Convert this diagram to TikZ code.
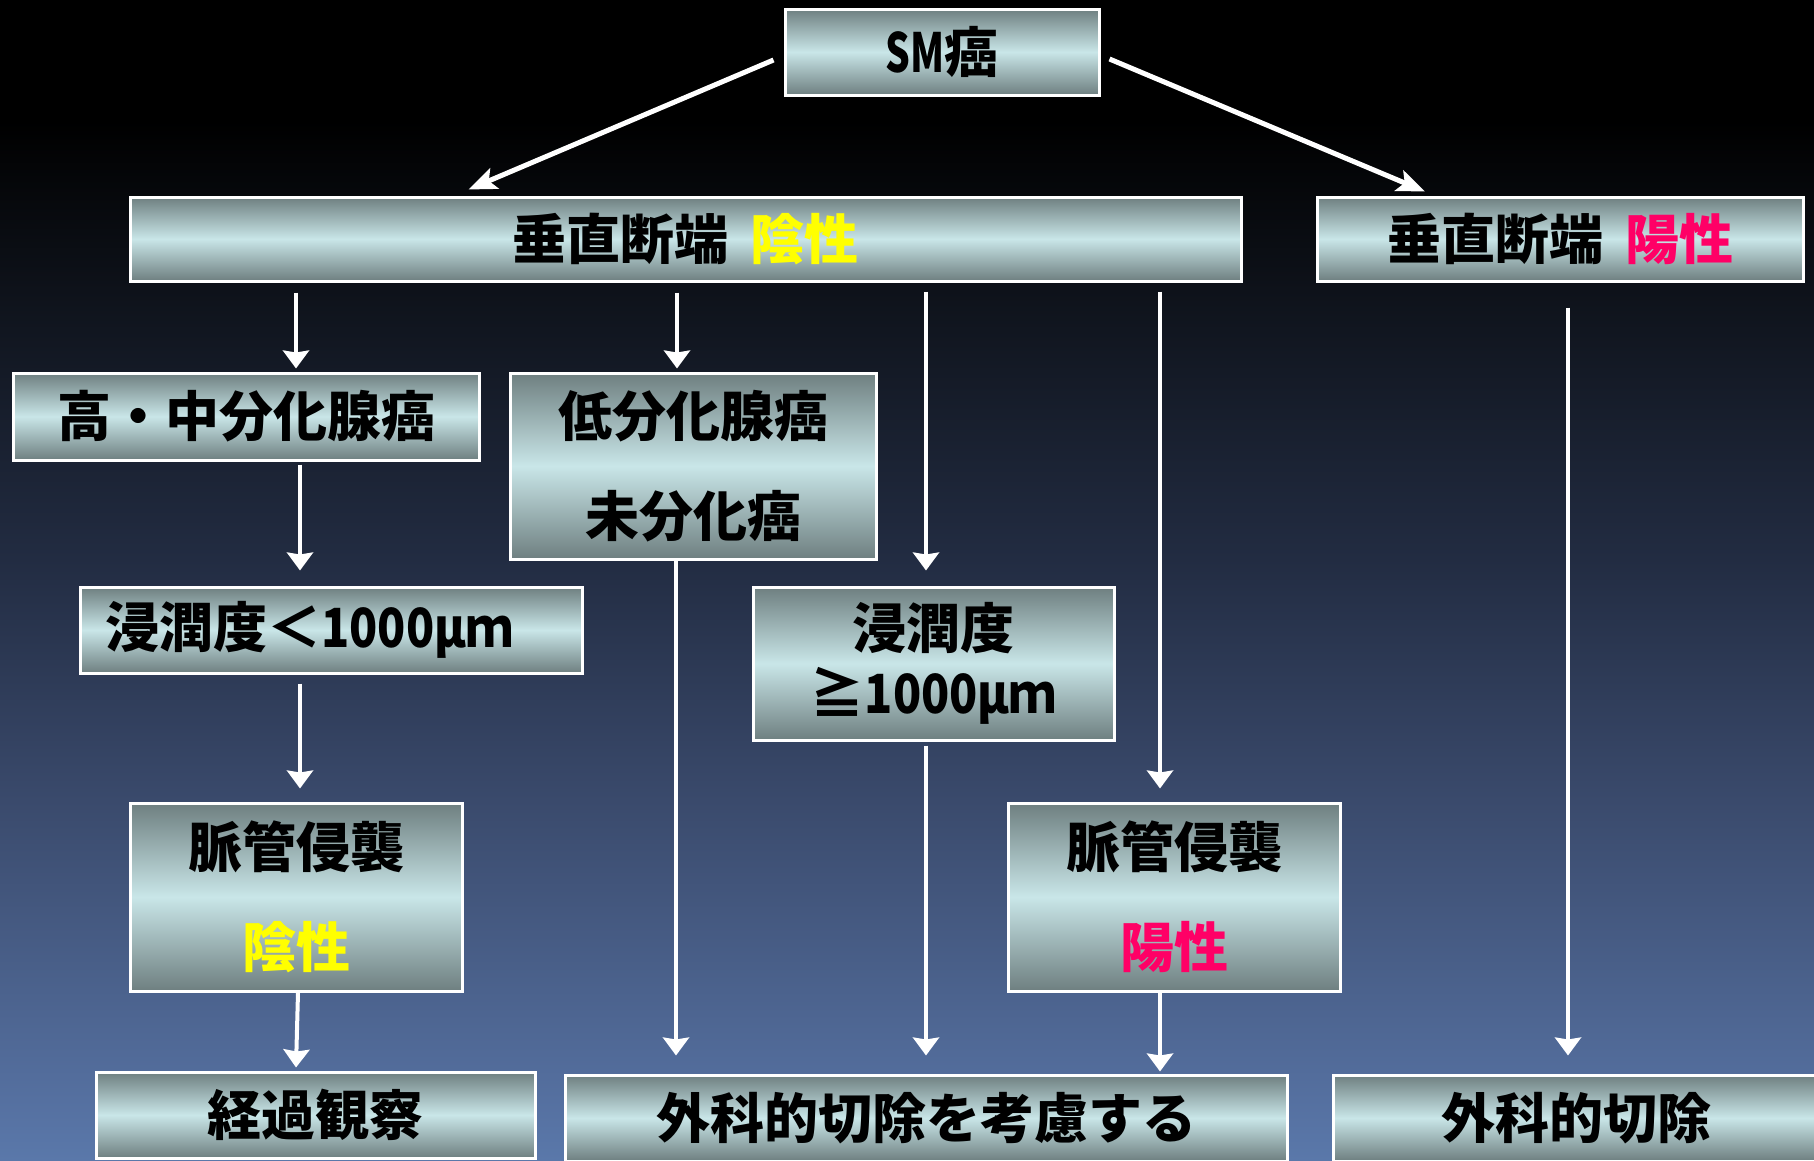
\documentclass[tikz,border=0pt]{standalone}
\usepackage{fontspec}
\usepackage{graphicx}
\setmainfont{Noto Sans CJK JP}
\usetikzlibrary{arrows.meta}
\definecolor{bxd}{HTML}{6E7F80}
\definecolor{bxl}{HTML}{C9E6E8}
\definecolor{bg0}{HTML}{5A78AA}
\definecolor{bg1}{HTML}{5570A0}
\definecolor{bg2}{HTML}{3A4A6C}
\definecolor{bg3}{HTML}{222C42}
\definecolor{bg4}{HTML}{0E121A}
\definecolor{yel}{HTML}{FFFF00}
\definecolor{pnk}{HTML}{FF0066}
\pgfdeclareverticalshading{boxsh}{100bp}{color(0bp)=(bxd); color(25bp)=(bxd); color(50bp)=(bxl); color(75bp)=(bxd); color(100bp)=(bxd)}
\pgfdeclareverticalshading{bgsh}{100bp}{color(0bp)=(bg0); color(25bp)=(bg0); color(27.6bp)=(bg1); color(40.5bp)=(bg2); color(50.9bp)=(bg3); color(62.5bp)=(bg4); color(69.8bp)=(black); color(100bp)=(black)}
\newcommand{\narrow}[1]{\scalebox{0.86}[1]{#1}}
\begin{document}
\begin{tikzpicture}[x=1pt,y=-1pt,
  box/.style={draw=white, line width=3pt, shade, shading=boxsh, text=black, align=center, inner sep=0pt,
    font=\bfseries\fontsize{54}{100}\selectfont},
  arr/.style={draw=white, line width=4pt, -{Stealth[length=18pt,width=26pt,inset=2pt]}},
  diag/.style={draw=white, line width=5pt, -{Stealth[length=28pt,width=22pt,inset=6pt]}}]
\path[use as bounding box] (0,0) rectangle (1814,1160);
\shade[shading=bgsh] (0,0) rectangle (1814,1160);
\begin{scope}
\clip (0,0) rectangle (1814,1160);
\node[box, minimum width=314pt, minimum height=86pt] (sm) at (942,52) {\scalebox{0.72}[1]{SM}癌};
\node[box, minimum width=1111pt, minimum height=84pt] (neg) at (685.5,239) {垂直断端\hspace{22pt}\textcolor{yel}{陰性}};
\node[box, minimum width=486pt, minimum height=84pt] (pos) at (1560,239) {垂直断端\hspace{22pt}\textcolor{pnk}{陽性}};
\node[box, minimum width=466pt, minimum height=87pt] (hm) at (246,416.5) {高・中分化腺癌};
\node[box, minimum width=366pt, minimum height=186pt] (low) at (693,466) {低分化腺癌\\未分化癌};
\node[box, minimum width=502pt, minimum height=86pt] (inv1) at (331,630) {浸潤度＜\narrow{1000μｍ}\hspace{44pt}};
\node[box, minimum width=361pt, minimum height=153pt, font=\bfseries\fontsize{54}{65}\selectfont] (inv2) at (933.5,663.5) {浸潤度\\≧\narrow{1000μｍ}};
\node[box, minimum width=332pt, minimum height=188pt] (lvn) at (296,897) {脈管侵襲\\\textcolor{yel}{陰性}};
\node[box, minimum width=332pt, minimum height=188pt] (lvp) at (1174,897) {脈管侵襲\\\textcolor{pnk}{陽性}};
\node[box, minimum width=439pt, minimum height=86pt] (obs) at (315.5,1115) {経過観察};
\node[box, minimum width=722pt, minimum height=86pt] (cons) at (926,1118) {外科的切除を考慮する};
\node[box, minimum width=487pt, minimum height=86pt] (surg) at (1576.5,1118) {外科的切除};
\end{scope}
\draw[diag] ([xshift=-10pt,yshift=-8pt]sm.west) -- ([xshift=-217pt,yshift=6pt]neg.north);
\draw[diag] ([xshift=9pt,yshift=-7pt]sm.east) -- ([xshift=-135pt,yshift=4pt]pos.north);
\draw[arr] ([xshift=-389.5pt,yshift=-10pt]neg.south) -- ([xshift=50pt,yshift=3pt]hm.north);
\draw[arr] ([xshift=-8.5pt,yshift=-10pt]neg.south) -- ([xshift=-16pt,yshift=3pt]low.north);
\draw[arr] ([xshift=240.5pt,yshift=-9pt]neg.south) -- ([xshift=-7.5pt,yshift=15pt]inv2.north);
\draw[arr] ([xshift=474.5pt,yshift=-9pt]neg.south) -- ([xshift=-14pt,yshift=13pt]lvp.north);
\draw[arr] ([xshift=8pt,yshift=-25pt]pos.south) -- ([xshift=-8.5pt,yshift=18pt]surg.north);
\draw[arr] ([xshift=54pt,yshift=-3pt]hm.south) -- ([xshift=-31pt,yshift=15pt]inv1.north);
\draw[arr] ([xshift=-31pt,yshift=-9pt]inv1.south) -- ([xshift=4pt,yshift=13pt]lvn.north);
\draw[arr] ([xshift=2pt]lvn.south) -- ([xshift=-19.5pt,yshift=3pt]obs.north);
\draw[arr] ([xshift=-17pt]low.south) -- ([xshift=-250pt,yshift=18pt]cons.north);
\draw[arr] ([xshift=-7.5pt,yshift=-4pt]inv2.south) -- ([yshift=18pt]cons.north);
\draw[arr] ([xshift=-14pt]lvp.south) -- ([xshift=234pt,yshift=2pt]cons.north);
\end{tikzpicture}
\end{document}
